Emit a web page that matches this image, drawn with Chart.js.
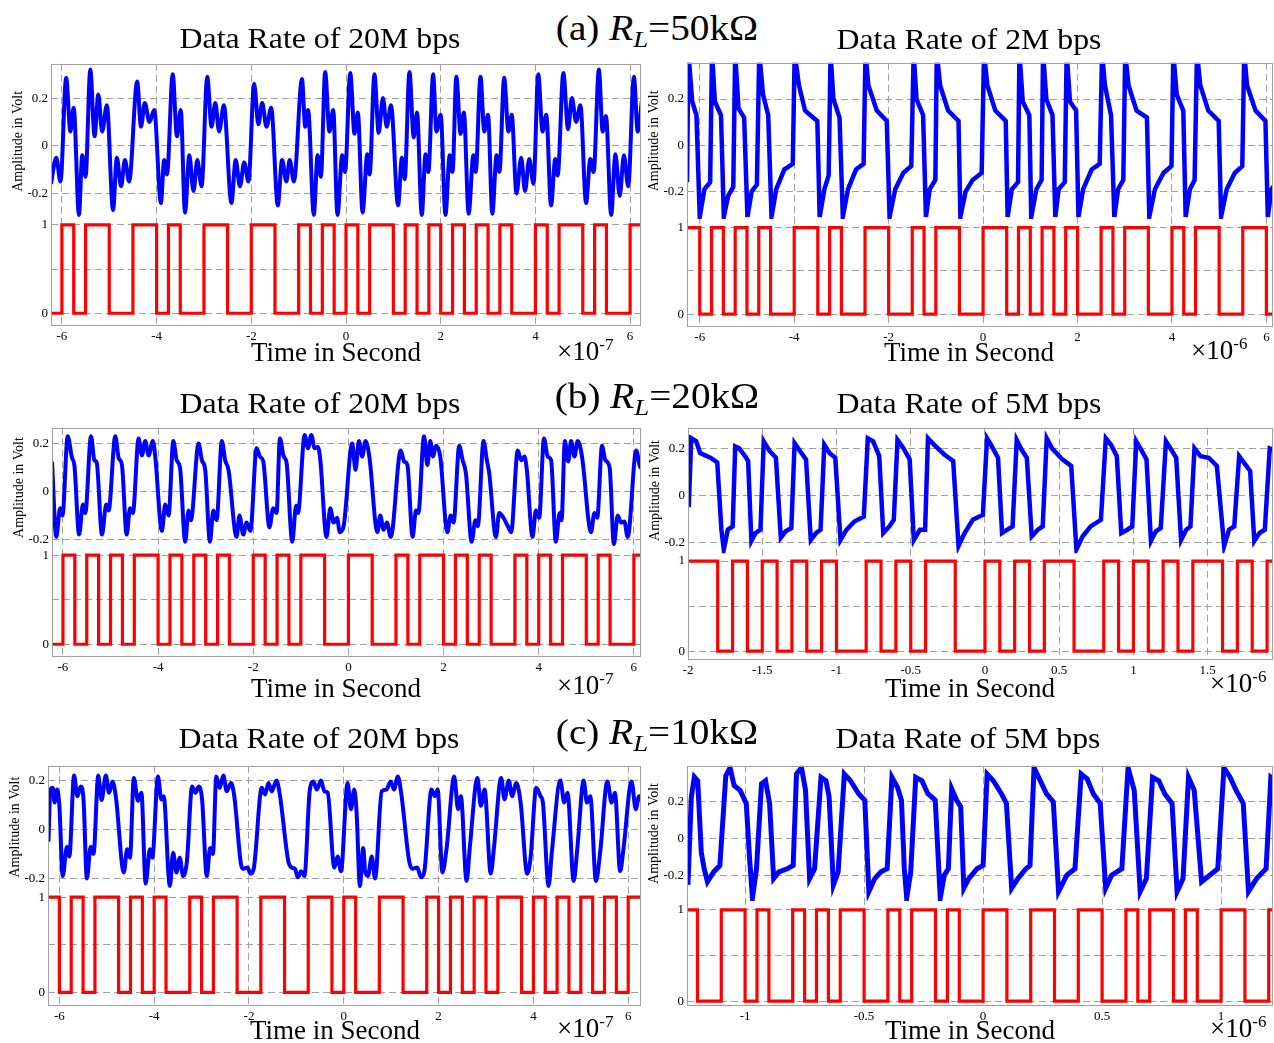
<!DOCTYPE html>
<html>
<head>
<meta charset="utf-8">
<script src="https://cdn.jsdelivr.net/npm/chart.js@4.4.1/dist/chart.umd.min.js"></script>
<style>
html, body { margin: 0; padding: 0; background: #fff; overflow: hidden; }
body { width: 1274px; height: 1043px; position: relative; font-family: "Liberation Serif", "Times New Roman", serif; color: #000; }
canvas { position: absolute; }
.t { position: absolute; white-space: nowrap; line-height: 1; }
.head { font-size: 35px; transform: translateX(-50%) scaleX(1.12); }
.head sub { font-size: 24px; line-height: 0; vertical-align: -7px; }
.ttl { font-size: 30px; transform: translateX(-50%) scaleX(1.06); }
.xl { font-size: 27px; transform: translateX(-50%); }
.mul { font-size: 27px; }
.mul sup { font-size: 17px; line-height: 0; vertical-align: 10px; }
</style>
</head>
<body>
<div class="t head" style="left:657px; top:11px;">(a) <i>R</i><sub><i>L</i></sub>=50kΩ</div>
<div class="t head" style="left:657px; top:379px;">(b) <i>R</i><sub><i>L</i></sub>=20kΩ</div>
<div class="t head" style="left:657px; top:715px;">(c) <i>R</i><sub><i>L</i></sub>=10kΩ</div>

<div class="t ttl" style="left:320px; top:23px;">Data Rate of 20M bps</div>
<div class="t ttl" style="left:969px; top:24px;">Data Rate of 2M bps</div>
<div class="t ttl" style="left:320px; top:388px;">Data Rate of 20M bps</div>
<div class="t ttl" style="left:969px; top:388px;">Data Rate of 5M bps</div>
<div class="t ttl" style="left:319px; top:723px;">Data Rate of 20M bps</div>
<div class="t ttl" style="left:968px; top:723px;">Data Rate of 5M bps</div>

<div class="t xl" style="left:336px; top:339px;">Time in Second</div>
<div class="t xl" style="left:969px; top:339px;">Time in Second</div>
<div class="t xl" style="left:336px; top:675px;">Time in Second</div>
<div class="t xl" style="left:970px; top:675px;">Time in Second</div>
<div class="t xl" style="left:335px; top:1017px;">Time in Second</div>
<div class="t xl" style="left:970px; top:1017px;">Time in Second</div>

<div class="t mul" style="left:557px; top:338px;">×10<sup>-7</sup></div>
<div class="t mul" style="left:1191px; top:337px;">×10<sup>-6</sup></div>
<div class="t mul" style="left:557px; top:672px;">×10<sup>-7</sup></div>
<div class="t mul" style="left:1210px; top:670px;">×10<sup>-6</sup></div>
<div class="t mul" style="left:557px; top:1015px;">×10<sup>-7</sup></div>
<div class="t mul" style="left:1210px; top:1015px;">×10<sup>-6</sup></div>

<script>
// tick labels
const ticks20 = [-6, -4, -2, 0, 2, 4, 6];
const ticksB5 = [-2, -1.5, -1, -0.5, 0, 0.5, 1, 1.5];
const ticksC5 = [-1, -0.5, 0, 0.5, 1];
const voltTicks = [-0.2, 0, 0.2];
const bitTicks = [0, 0.5, 1];

// transmitted bits (red), one value per half-bit slot
const bitsA20 = [0, 0,1,0,1,1,0,0,1,1,0, 1,0,0,1,1,0,0,1,1,0, 0,1,0,1,0,1,0,1,1,0, 1,0,1,0,1,0,1,0,1,0, 0,1,0,1,1,0,1,0,0,1, 1];
const bitsA2  = [1, 1,0,1,0,1,0,1,0,0,1, 1,0,1,0,0,1,1,0,0,1, 0,1,1,0,0,1,1,0,1,0, 1,0,1,0,0,1,0,1,1,0, 0,1,0,1,1,0,0,1,1,0, 0];
const bitsB20 = [1, 0,1,0,1,0,1,0,1,1,0, 1,0,1,0,1,0,0,1,0,1, 0,1,1,0,0,1,1,0,0,1, 0,1,1,0,1,0,1,0,0,1, 0,1,0,1,1,0,1,0,0,1, 1];
const bitsB5  = [1, 1,1,0,1,0,1,0,1,0,1, 0,0,1,0,1,0,1,1,0,0, 1,0,1,0,1,1,0,0,1,0, 1,0,1,0,1,1,0,1,0,1, 1];
const bitsC20 = [1, 1,0,1,0,1,1,0,1,0,1, 0,0,1,0,1,1,0,0,1,1, 0,0,1,1,0,1,0,0,1,1, 0,0,1,0,1,0,1,0,1,1, 0,1,0,1,0,1,0,1,0,1, 1];
const bitsC5  = [1, 1,0,0,1,1,0,1,0,0,1, 0,1,0,1,1,0,0,1,0,1, 1,0,1,0,0,1,1,0,0,1, 1,0,0,1,1,0,0,1,0,1, 1,0,1,0,0,1,1,0,0,1, 1];

// received signal (blue), [time, volt]
const blueA20 = [[-6.23,-0.16],[-6.12,-0.05],[-6.03,-0.15],[-5.91,0.285],[-5.82,0.06],[-5.75,0.16],[-5.64,-0.29],[-5.57,-0.04],[-5.50,-0.13],[-5.40,0.32],[-5.31,0.04],[-5.23,0.215],[-5.15,0.06],[-5.05,0.17],[-4.92,-0.27],[-4.84,-0.05],[-4.75,-0.17],[-4.67,-0.06],[-4.58,-0.15],[-4.41,0.27],[-4.33,0.08],[-4.25,0.18],[-4.15,0.10],[-4.05,0.15],[-3.91,-0.24],[-3.84,-0.06],[-3.78,-0.12],[-3.66,0.30],[-3.57,0.04],[-3.49,0.15],[-3.40,-0.28],[-3.31,-0.04],[-3.22,-0.19],[-3.14,-0.06],[-3.05,-0.17],[-2.93,0.29],[-2.84,0.08],[-2.76,0.18],[-2.68,0.06],[-2.58,0.17],[-2.42,-0.24],[-2.33,-0.06],[-2.24,-0.17],[-2.15,-0.07],[-2.06,-0.15],[-1.94,0.26],[-1.85,0.09],[-1.77,0.18],[-1.68,0.08],[-1.58,0.16],[-1.44,-0.25],[-1.35,-0.06],[-1.26,-0.15],[-1.19,-0.06],[-1.10,-0.15],[-0.93,0.28],[-0.86,0.08],[-0.80,0.15],[-0.68,-0.29],[-0.60,-0.04],[-0.53,-0.13],[-0.44,0.31],[-0.35,0.06],[-0.27,0.15],[-0.18,-0.29],[-0.08,-0.04],[-0.02,-0.11],
  [0.09,0.305],[0.18,0.05],[0.25,0.14],[0.35,-0.28],[0.45,-0.035],[0.50,-0.12],[0.60,0.30],[0.69,0.055],[0.78,0.20],[0.86,0.08],[0.95,0.17],[1.10,-0.25],[1.18,-0.05],[1.24,-0.14],[1.34,0.31],[1.43,0.035],[1.50,0.14],[1.60,-0.29],[1.68,-0.035],[1.74,-0.11],[1.84,0.30],[1.91,0.06],[2.00,0.13],[2.10,-0.29],[2.19,-0.04],[2.25,-0.11],[2.33,0.29],[2.42,0.05],[2.49,0.14],[2.59,-0.285],[2.69,-0.04],[2.74,-0.11],[2.84,0.29],[2.92,0.06],[3.00,0.13],[3.09,-0.285],[3.18,-0.04],[3.24,-0.11],[3.34,0.285],[3.43,0.06],[3.50,0.13],[3.60,-0.20],[3.70,-0.05],[3.78,-0.19],[3.87,-0.055],[3.96,-0.16],[4.06,0.30],[4.15,0.06],[4.23,0.13],[4.33,-0.25],[4.42,-0.055],[4.47,-0.125],[4.59,0.305],[4.69,0.07],[4.77,0.20],[4.86,0.10],[4.95,0.17],[5.07,-0.24],[5.16,-0.055],[5.23,-0.11],[5.34,0.32],[5.42,0.06],[5.49,0.125],[5.60,-0.29],[5.69,-0.035],[5.78,-0.21],[5.87,-0.04],[5.96,-0.17],[6.08,0.29],[6.16,0.06],[6.25,0.19]];

const blueA2 = [[-6.27,-0.16],[-6.24,0.40],[-6.16,0.19],[-6.07,0.13],[-6.00,-0.31],[-5.90,-0.19],[-5.78,-0.16],[-5.74,0.40],[-5.68,0.19],[-5.55,0.13],[-5.49,-0.31],[-5.40,-0.22],[-5.29,-0.18],[-5.25,0.40],[-5.18,0.16],[-5.06,0.12],[-4.99,-0.31],[-4.90,-0.20],[-4.79,-0.17],[-4.74,0.40],[-4.66,0.22],[-4.55,0.13],[-4.48,-0.31],[-4.38,-0.19],[-4.21,-0.105],[-4.03,-0.08],[-3.99,0.40],[-3.90,0.26],[-3.77,0.15],[-3.60,0.12],[-3.51,0.105],[-3.46,-0.31],[-3.36,-0.19],[-3.27,-0.13],[-3.23,0.40],[-3.17,0.20],[-3.04,0.12],[-2.97,-0.31],[-2.86,-0.19],[-2.69,-0.105],[-2.53,-0.08],[-2.49,0.40],[-2.43,0.26],[-2.25,0.15],[-2.04,0.105],[-1.98,-0.31],[-1.86,-0.19],[-1.69,-0.12],[-1.52,-0.09],[-1.47,0.40],[-1.41,0.20],[-1.27,0.13],[-1.21,-0.31],[-1.13,-0.19],[-1.01,-0.15],[-0.98,0.40],[-0.91,0.26],[-0.74,0.15],[-0.52,0.105],[-0.48,-0.31],[-0.37,-0.20],[-0.22,-0.15],[-0.03,-0.12],[0.02,0.40],[0.09,0.26],[0.26,0.15],[0.48,0.105],[0.52,-0.31],[0.61,-0.19],[0.74,-0.16],[0.77,0.40],[0.84,0.19],[0.98,0.13],[1.02,-0.31],[1.13,-0.19],[1.24,-0.15],[1.27,0.40],[1.34,0.20],[1.47,0.13],[1.53,-0.31],[1.60,-0.19],[1.73,-0.16],[1.77,0.40],[1.84,0.19],[1.97,0.15],[2.02,-0.31],[2.12,-0.19],[2.30,-0.105],[2.47,-0.08],[2.52,0.40],[2.58,0.26],[2.71,0.13],[2.78,-0.31],[2.86,-0.19],[2.97,-0.15],[3.01,0.40],[3.08,0.26],[3.25,0.15],[3.47,0.12],[3.52,-0.31],[3.64,-0.19],[3.82,-0.12],[3.99,-0.09],[4.03,0.40],[4.10,0.22],[4.24,0.15],[4.29,-0.31],[4.38,-0.19],[4.48,-0.15],[4.53,0.40],[4.60,0.26],[4.77,0.15],[4.99,0.105],[5.04,-0.31],[5.16,-0.19],[5.33,-0.12],[5.49,-0.09],[5.53,0.40],[5.59,0.26],[5.77,0.15],[5.98,0.105],[6.03,-0.31],[6.11,-0.19],[6.18,-0.17]];

const blueB20 = [[-6.23,0.124],[-6.14,-0.19],[-6.06,-0.07],[-6.01,-0.10],[-5.90,0.23],[-5.81,0.14],[-5.76,0.11],[-5.66,-0.18],[-5.58,-0.055],[-5.53,-0.09],[-5.41,0.23],[-5.34,0.13],[-5.29,0.12],[-5.18,-0.18],[-5.09,-0.055],[-5.04,-0.08],[-4.90,0.23],[-4.83,0.14],[-4.76,0.11],[-4.66,-0.18],[-4.59,-0.07],[-4.53,-0.09],[-4.41,0.22],[-4.34,0.15],[-4.27,0.21],[-4.20,0.15],[-4.11,0.21],[-4.06,0.145],[-3.92,-0.165],[-3.85,-0.055],[-3.78,-0.10],[-3.68,0.21],[-3.61,0.13],[-3.54,0.10],[-3.43,-0.21],[-3.36,-0.08],[-3.31,-0.12],[-3.15,0.20],[-3.08,0.13],[-3.01,0.09],[-2.91,-0.21],[-2.84,-0.08],[-2.77,-0.12],[-2.66,0.21],[-2.59,0.13],[-2.52,0.09],[-2.35,-0.19],[-2.29,-0.10],[-2.21,-0.18],[-2.14,-0.13],[-2.06,-0.165],[-1.93,0.18],[-1.86,0.145],[-1.79,0.125],[-1.66,-0.15],[-1.58,-0.07],[-1.51,-0.09],[-1.44,0.22],[-1.36,0.145],[-1.30,0.12],[-1.18,-0.21],[-1.10,-0.06],[-1.06,-0.09],[-0.92,0.235],[-0.85,0.18],[-0.78,0.235],[-0.71,0.18],[-0.64,0.185],[-0.59,0.13],[-0.46,-0.19],[-0.38,-0.07],[-0.31,-0.13],[-0.24,-0.11],[-0.18,-0.17],[-0.10,-0.145],
  [0.08,0.20],[0.15,0.09],[0.22,0.21],[0.29,0.145],[0.36,0.21],[0.44,0.145],[0.61,-0.17],[0.67,-0.10],[0.74,-0.16],[0.81,-0.13],[0.89,-0.19],[1.10,0.17],[1.17,0.125],[1.24,0.11],[1.35,-0.19],[1.42,-0.08],[1.47,-0.09],[1.59,0.23],[1.66,0.11],[1.72,0.21],[1.78,0.145],[1.84,0.19],[1.93,0.145],[2.08,-0.17],[2.15,-0.10],[2.21,-0.13],[2.33,0.19],[2.40,0.13],[2.47,0.076],[2.59,-0.21],[2.67,-0.12],[2.72,-0.145],[2.84,0.21],[2.91,0.13],[2.96,0.076],[3.10,-0.19],[3.17,-0.09],[3.26,-0.11],[3.35,-0.145],[3.42,-0.17],[3.56,0.17],[3.63,0.13],[3.70,0.145],[3.75,0.09],[3.87,-0.19],[3.94,-0.08],[4.01,-0.11],[4.11,0.22],[4.19,0.145],[4.26,0.13],[4.36,-0.21],[4.44,-0.09],[4.48,-0.12],[4.55,0.21],[4.62,0.125],[4.68,0.21],[4.75,0.145],[4.82,0.21],[4.91,0.145],[5.10,-0.17],[5.17,-0.09],[5.23,-0.11],[5.33,0.19],[5.40,0.13],[5.49,0.10],[5.58,-0.22],[5.66,-0.10],[5.73,-0.13],[5.80,-0.125],[5.87,-0.19],[6.05,0.17],[6.14,0.10],[6.21,0.13]];

const blueB5 = [[-1.995,-0.05],[-1.978,0.243],[-1.945,0.23],[-1.918,0.18],[-1.849,0.16],[-1.803,0.14],[-1.775,-0.146],[-1.759,-0.23],[-1.732,-0.146],[-1.699,-0.132],[-1.682,0.208],[-1.655,0.20],[-1.616,0.167],[-1.595,0.146],[-1.573,-0.194],[-1.545,-0.16],[-1.512,-0.146],[-1.490,0.23],[-1.452,0.19],[-1.408,0.16],[-1.375,-0.18],[-1.342,-0.153],[-1.304,-0.139],[-1.282,0.222],[-1.247,0.19],[-1.205,0.153],[-1.173,-0.19],[-1.137,-0.16],[-1.107,-0.146],[-1.082,0.215],[-1.047,0.18],[-1.008,0.16],[-0.973,-0.19],[-0.932,-0.146],[-0.877,-0.11],[-0.816,-0.09],[-0.789,0.243],[-0.753,0.23],[-0.712,0.167],[-0.685,-0.16],[-0.644,-0.132],[-0.614,-0.104],[-0.589,0.236],[-0.548,0.20],[-0.507,0.153],[-0.479,-0.19],[-0.438,-0.146],[-0.403,-0.146],[-0.384,0.243],[-0.342,0.215],[-0.274,0.174],[-0.214,0.146],[-0.178,-0.215],[-0.137,-0.16],[-0.082,-0.104],[-0.014,-0.083],[0.014,0.243],[0.041,0.215],[0.088,0.16],[0.115,-0.16],[0.151,-0.146],[0.186,-0.132],[0.214,0.236],[0.247,0.194],[0.282,0.16],[0.315,-0.174],[0.356,-0.146],[0.389,-0.132],[0.416,0.243],[0.452,0.20],[0.521,0.153],[0.581,0.125],[0.616,-0.23],[0.658,-0.174],[0.712,-0.132],[0.781,-0.104],[0.814,0.243],[0.849,0.215],[0.888,0.167],[0.918,-0.16],[0.959,-0.146],[0.992,-0.132],[1.019,0.23],[1.055,0.19],[1.088,0.153],[1.118,-0.194],[1.151,-0.153],[1.184,-0.139],[1.219,0.23],[1.255,0.194],[1.288,0.16],[1.321,-0.19],[1.356,-0.146],[1.384,-0.132],[1.411,0.20],[1.452,0.167],[1.507,0.16],[1.562,0.125],[1.611,-0.215],[1.644,-0.146],[1.679,-0.132],[1.712,0.167],[1.753,0.132],[1.786,0.104],[1.814,-0.194],[1.849,-0.16],[1.885,-0.146],[1.918,0.20],[1.945,0.194]];

const blueC20 = [[-6.23,-0.05],[-6.19,0.163],[-6.14,0.17],[-6.10,0.11],[-6.05,0.163],[-6.00,0.097],[-5.93,-0.19],[-5.84,-0.07],[-5.79,-0.11],[-5.69,0.22],[-5.62,0.136],[-5.55,0.176],[-5.49,0.12],[-5.42,-0.20],[-5.34,-0.07],[-5.28,-0.10],[-5.18,0.22],[-5.11,0.12],[-5.02,0.22],[-4.95,0.15],[-4.88,0.196],[-4.81,0.136],[-4.64,-0.175],[-4.57,-0.08],[-4.51,-0.115],[-4.43,0.21],[-4.34,0.117],[-4.27,0.15],[-4.18,-0.22],[-4.09,-0.08],[-4.04,-0.115],[-3.92,0.216],[-3.85,0.123],[-3.80,0.136],[-3.67,-0.23],[-3.60,-0.095],[-3.53,-0.175],[-3.46,-0.115],[-3.39,-0.19],[-3.31,-0.13],[-3.20,0.176],[-3.13,0.15],[-3.06,0.176],[-2.99,0.123],[-2.89,-0.19],[-2.82,-0.075],[-2.76,-0.10],[-2.69,0.216],[-2.62,0.17],[-2.54,0.22],[-2.47,0.156],[-2.38,0.19],[-2.31,0.136],[-2.17,-0.14],[-2.12,-0.16],[-2.03,-0.155],[-1.97,-0.18],[-1.90,-0.16],[-1.73,0.17],[-1.66,0.143],[-1.59,0.19],[-1.52,0.156],[-1.42,0.20],[-1.35,0.143],[-1.17,-0.13],[-1.10,-0.155],[-1.03,-0.16],[-0.97,-0.195],[-0.90,-0.17],[-0.83,-0.19],[-0.72,0.156],[-0.64,0.196],[-0.57,0.163],[-0.48,0.20],[-0.41,0.156],[-0.34,0.15],[-0.20,-0.155],[-0.13,-0.11],[-0.06,-0.17],
  [0.08,0.19],[0.15,0.083],[0.22,0.163],[0.27,0.07],[0.34,-0.23],[0.41,-0.075],[0.45,-0.17],[0.51,-0.19],[0.59,-0.11],[0.66,-0.20],[0.80,0.156],[0.90,0.163],[0.99,0.196],[1.06,0.163],[1.14,0.216],[1.21,0.15],[1.38,-0.13],[1.45,-0.16],[1.55,-0.155],[1.63,-0.195],[1.70,-0.17],[1.85,0.163],[1.92,0.136],[1.98,0.163],[2.08,-0.175],[2.17,-0.075],[2.33,0.216],[2.41,0.083],[2.47,0.136],[2.59,-0.21],[2.66,-0.07],[2.82,0.21],[2.89,0.097],[2.97,0.163],[3.10,-0.18],[3.17,-0.07],[3.32,0.21],[3.39,0.123],[3.48,0.20],[3.55,0.136],[3.64,0.19],[3.73,0.11],[3.87,-0.18],[3.94,-0.115],[4.06,0.17],[4.15,0.136],[4.20,0.11],[4.32,-0.23],[4.39,-0.09],[4.57,0.20],[4.65,0.11],[4.72,0.15],[4.85,-0.21],[4.93,-0.07],[5.06,0.20],[5.13,0.11],[5.20,0.136],[5.32,-0.21],[5.41,-0.09],[5.56,0.196],[5.65,0.11],[5.72,0.15],[5.83,-0.17],[5.90,-0.08],[6.07,0.196],[6.16,0.083],[6.23,0.136],[6.28,0.12]];

const blueC5 = [[-1.240,-0.25],[-1.226,0.22],[-1.213,0.33],[-1.199,0.31],[-1.184,-0.075],[-1.172,-0.163],[-1.158,-0.233],[-1.132,-0.18],[-1.106,-0.146],[-1.081,0.337],[-1.063,0.38],[-1.046,0.284],[-1.021,0.258],[-0.995,0.188],[-0.981,-0.11],[-0.969,-0.32],[-0.952,-0.163],[-0.931,0.293],[-0.914,0.31],[-0.897,0.188],[-0.880,-0.216],[-0.858,-0.18],[-0.823,-0.163],[-0.798,-0.146],[-0.784,0.346],[-0.763,0.38],[-0.746,0.258],[-0.729,-0.216],[-0.708,-0.163],[-0.681,0.328],[-0.660,0.31],[-0.647,0.223],[-0.629,-0.25],[-0.609,-0.18],[-0.583,0.346],[-0.557,0.31],[-0.523,0.24],[-0.497,0.205],[-0.480,-0.286],[-0.455,-0.216],[-0.429,-0.18],[-0.403,-0.163],[-0.383,0.328],[-0.360,0.275],[-0.343,0.205],[-0.331,-0.163],[-0.321,-0.32],[-0.304,-0.18],[-0.283,0.328],[-0.257,0.31],[-0.232,0.24],[-0.201,0.205],[-0.180,-0.32],[-0.163,-0.198],[-0.146,-0.163],[-0.132,0.267],[-0.111,0.205],[-0.094,0.17],[-0.081,-0.268],[-0.060,-0.216],[-0.026,-0.163],[0.000,-0.146],[0.017,0.346],[0.043,0.31],[0.077,0.24],[0.098,0.188],[0.120,-0.268],[0.146,-0.216],[0.180,-0.163],[0.197,-0.146],[0.214,0.38],[0.240,0.31],[0.266,0.24],[0.295,0.196],[0.317,-0.286],[0.352,-0.198],[0.386,-0.163],[0.412,0.346],[0.437,0.32],[0.463,0.24],[0.492,0.188],[0.515,-0.268],[0.540,-0.198],[0.583,-0.163],[0.609,0.38],[0.635,0.258],[0.660,-0.286],[0.686,-0.216],[0.712,0.328],[0.738,0.31],[0.763,0.24],[0.794,0.188],[0.815,-0.286],[0.840,-0.216],[0.863,0.328],[0.887,0.258],[0.918,-0.233],[0.952,-0.198],[0.986,-0.163],[1.012,0.38],[1.038,0.328],[1.063,0.258],[1.093,0.188],[1.115,-0.286],[1.149,-0.216],[1.189,-0.163],[1.209,0.328],[1.226,0.31]];

// layout of the six panels (pixel frames and axis ranges)
const panels = [
  {frame: [51, 59, 641, 326], split: 217, xr: [-6.23, 6.23], xt: ticks20, yb: [-0.307, 0.344], yr: [-0.144, 1.067], blue: blueA20, bits: bitsA20, bitStart: -6.5, bitStep: 0.25, smooth: true, lw: 4},
  {frame: [687, 58, 1273, 327], split: 217, xr: [-6.27, 6.14], xt: ticks20, yb: [-0.319, 0.357], yr: [-0.148, 1.10], blue: blueA2, bits: bitsA2, bitStart: -6.5, bitStep: 0.25, smooth: false, lw: 4.5},
  {frame: [52, 423, 641, 657], split: 545, xr: [-6.23, 6.15], xt: ticks20, yb: [-0.233, 0.265], yr: [-0.143, 1.088], blue: blueB20, bits: bitsB20, bitStart: -6.5, bitStep: 0.25, smooth: true, lw: 4},
  {frame: [688, 423, 1273, 660], split: 551, xr: [-2.0, 1.94], xt: ticksB5, yb: [-0.246, 0.2875], yr: [-0.098, 1.087], blue: blueB5, bits: bitsB5, bitStart: -2.1, bitStep: 0.1, smooth: false, lw: 4.5},
  {frame: [48, 761, 641, 1006], split: 886, xr: [-6.24, 6.27], xt: ticks20, yb: [-0.24, 0.26], yr: [-0.144, 1.093], blue: blueC20, bits: bitsC20, bitStart: -6.5, bitStep: 0.25, smooth: true, lw: 4},
  {frame: [687, 761, 1273, 1006], split: 899, xr: [-1.244, 1.218], xt: ticksC5, yb: [-0.337, 0.39], yr: [-0.053, 1.096], blue: blueC5, bits: bitsC5, bitStart: -1.3, bitStep: 0.05, smooth: false, lw: 5}
];

const serif = '"Liberation Serif", "Times New Roman", serif';
const AXIS_W = 45, XAXIS_H = 26, PAD = 6;

// grey box round the plot area, like MATLAB
const framePlugin = {
  id: 'frame',
  afterDraw(chart) {
    const {ctx, chartArea: a} = chart;
    ctx.save();
    ctx.strokeStyle = '#a0a0a0';
    ctx.lineWidth = 1;
    ctx.strokeRect(Math.round(a.left) + 0.5, Math.round(a.top) + 0.5,
      Math.round(a.right - a.left) - 1, Math.round(a.bottom - a.top) - 1);
    ctx.restore();
  }
};

function stepPoints(bits, start, step) {
  const pts = bits.map((b, i) => ({x: start + i * step, y: b}));
  pts.push({x: start + bits.length * step, y: bits[bits.length - 1]});
  return pts;
}

function fixedTicks(values) {
  return scale => { scale.ticks = values.map(v => ({value: v})); };
}

function makePanel(p) {
  const [fl, ft, fr, fb] = p.frame;
  const w = fr - fl + AXIS_W + PAD, h = fb - ft + PAD + XAXIS_H;
  const cv = document.createElement('canvas');
  cv.width = w; cv.height = h;
  cv.style.left = (fl - AXIS_W) + 'px';
  cv.style.top = (ft - PAD) + 'px';
  cv.style.width = w + 'px';
  cv.style.height = h + 'px';
  document.body.insertBefore(cv, document.body.firstChild);

  const tickFont = {family: serif, size: 13};
  const grid = {color: '#a0a0a0', lineWidth: 1, drawTicks: false};
  const border = {display: false, dash: [7, 4]};

  new Chart(cv, {
    type: 'line',
    data: {
      datasets: [{
        data: p.blue.map(q => ({x: q[0], y: q[1]})),
        yAxisID: 'yb',
        borderColor: '#0000ff',
        borderWidth: p.lw,
        pointRadius: 0,
        cubicInterpolationMode: p.smooth ? 'monotone' : 'default',
        tension: 0,
        clip: 0
      }, {
        data: stepPoints(p.bits, p.bitStart, p.bitStep),
        yAxisID: 'yr',
        borderColor: '#ff0000',
        borderWidth: 3.2,
        pointRadius: 0,
        stepped: true,
        clip: 0
      }]
    },
    options: {
      responsive: false,
      animation: false,
      devicePixelRatio: 1,
      layout: {padding: {left: 0, top: PAD, right: PAD, bottom: 0}},
      plugins: {legend: {display: false}, tooltip: {enabled: false}},
      scales: {
        x: {
          type: 'linear', min: p.xr[0], max: p.xr[1],
          afterBuildTicks: fixedTicks(p.xt),
          afterFit: s => { s.height = XAXIS_H; },
          grid: grid, border: border,
          ticks: {font: tickFont, color: '#000', padding: 3, maxRotation: 0, autoSkip: false, callback: v => String(v)}
        },
        yr: {
          type: 'linear', position: 'left', stack: 'p', stackWeight: fb - p.split,
          min: p.yr[0], max: p.yr[1],
          afterBuildTicks: fixedTicks(bitTicks),
          afterFit: s => { s.width = AXIS_W; },
          grid: grid, border: border,
          ticks: {font: tickFont, color: '#000', padding: 3, callback: v => v === 0.5 ? '' : String(v)}
        },
        yb: {
          type: 'linear', position: 'left', stack: 'p', stackWeight: p.split - ft,
          min: p.yb[0], max: p.yb[1],
          afterBuildTicks: fixedTicks(voltTicks),
          afterFit: s => { s.width = AXIS_W; },
          grid: grid, border: border,
          ticks: {font: tickFont, color: '#000', padding: 3, callback: v => String(v)},
          title: {display: true, text: 'Amplitude in Volt', color: '#000', font: {family: serif, size: 14}, padding: {top: 4, bottom: 0}}
        }
      }
    },
    plugins: [framePlugin]
  });
}

panels.forEach(makePanel);
</script>
</body>
</html>
